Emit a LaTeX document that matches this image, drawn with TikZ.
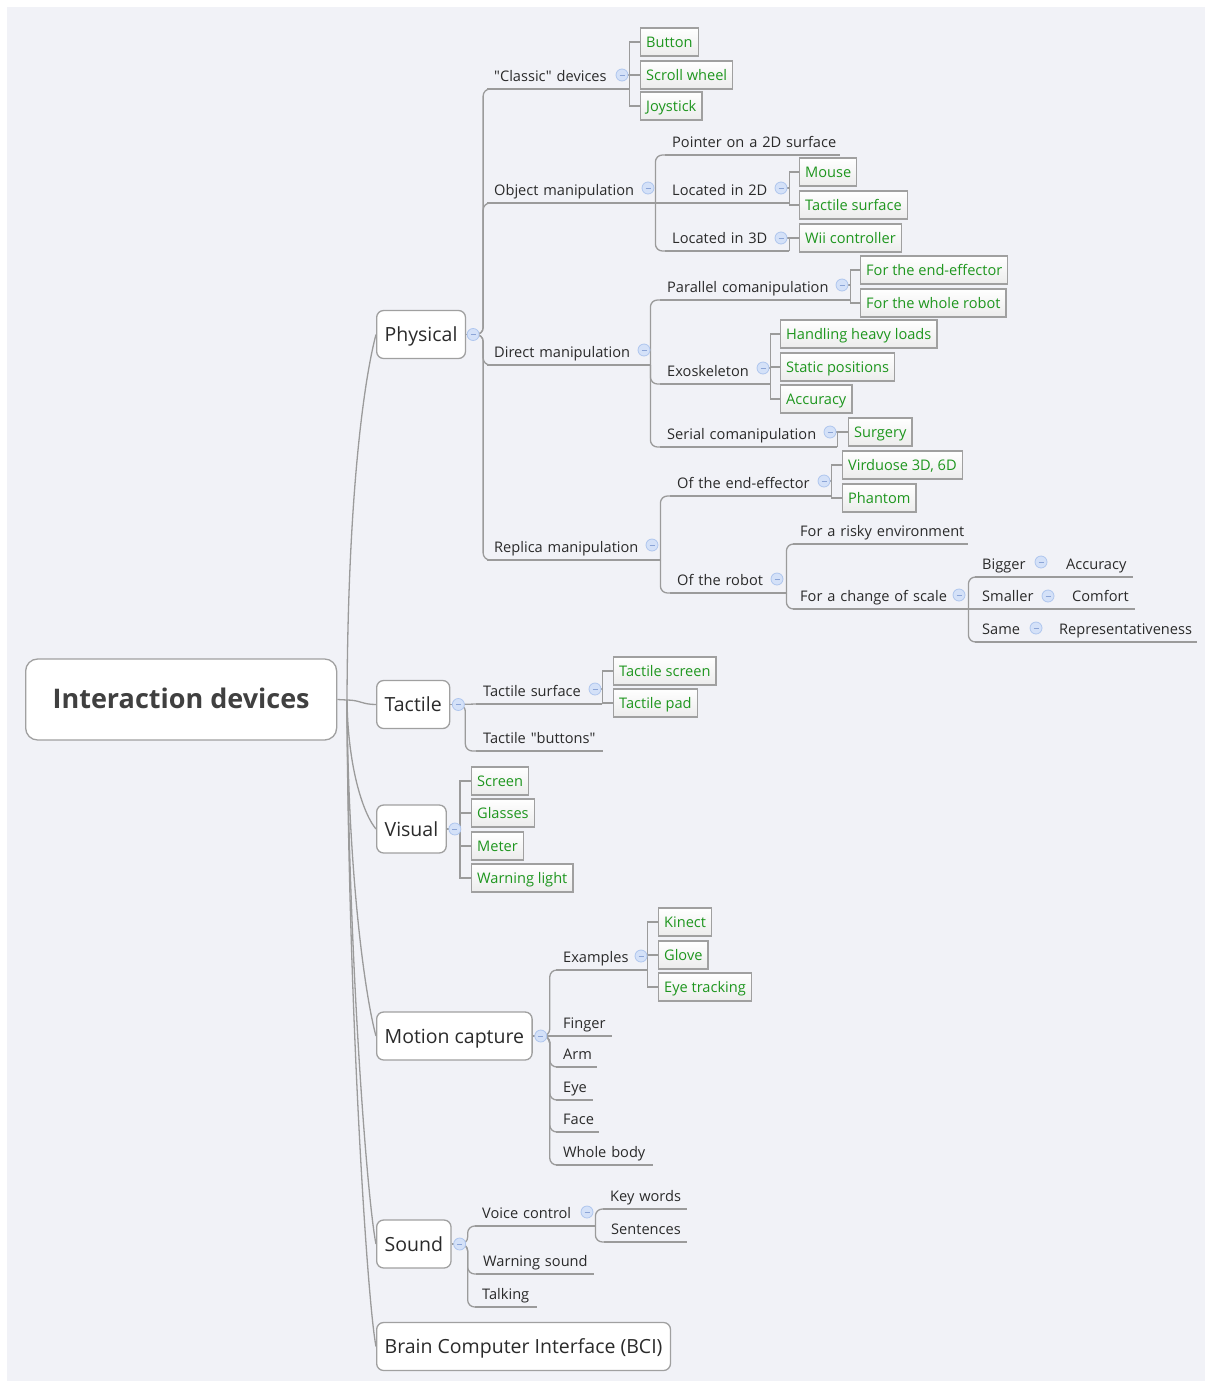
\documentclass[tikz,border=0pt]{standalone}
\usepackage{fontspec}
\setmainfont{Open Sans}[Ligatures=TeXOff]
\usetikzlibrary{calc}
\pgfdeclarelayer{back}
\pgfdeclarelayer{lines}
\pgfsetlayers{back,lines,main}
\definecolor{bgc}{RGB}{241,242,247}
\definecolor{lncol}{RGB}{155,155,155}
\definecolor{boxcol}{RGB}{160,160,160}
\definecolor{txt}{RGB}{42,42,42}
\definecolor{rtxt}{RGB}{64,64,64}
\definecolor{grn}{RGB}{30,150,30}
\definecolor{icoF}{RGB}{212,225,248}
\definecolor{icoB}{RGB}{175,198,238}
\definecolor{icoM}{RGB}{140,165,215}
\definecolor{boxbot}{RGB}{236,236,236}
\newcommand\subfnt{\fontsize{14.6}{17}\selectfont}
\newcommand\mainfnt{\fontsize{19.5}{23}\selectfont}
\newcommand\rootfnt{\fontsize{27}{31}\selectfont\bfseries}
\begin{document}
\begin{tikzpicture}[x=1pt,y=-1pt,
  ln/.style={draw=lncol, line width=1.3pt},
  br/.style={ln, rounded corners=7pt},
  sub/.style={anchor=south west, inner xsep=7pt, inner ysep=3.5pt, text height=11pt, text depth=4pt, font=\subfnt, text=txt, align=left},
  gbox/.style={anchor=west, draw=boxcol, line width=1.3pt, top color=white, bottom color=boxbot, text=grn, font=\subfnt, inner xsep=5.5pt, inner ysep=0pt, minimum height=28pt, text height=13pt, text depth=1.5pt},
  mbox/.style={anchor=west, draw=boxcol, line width=1.3pt, fill=white, rounded corners=7pt, font=\mainfnt, text=txt, inner xsep=8pt, minimum height=48pt, text height=17pt, text depth=3pt},
  ico/.style={circle, draw=icoB, fill=icoF, line width=0.8pt, minimum size=12pt, inner sep=0pt,
    path picture={\draw[icoM, line width=1pt] ([xshift=-2.5pt]path picture bounding box.center) -- ([xshift=2.5pt]path picture bounding box.center);}}
]
\begin{pgfonlayer}{back}
\fill[white] (0,0) rectangle (1211,1387);
\fill[bgc] (7,7) rectangle (1205,1381);
\end{pgfonlayer}
\path[use as bounding box] (0,0) rectangle (1211,1387);

% root and main topics
\node[draw=boxcol, line width=1.3pt, fill=white, rounded corners=12pt, minimum width=311pt, minimum height=81pt, anchor=west, font=\rootfnt, text=rtxt, text height=22pt, text depth=4pt] (root) at (25,699.5) {Interaction devices};
\coordinate (hub) at (347,700);
\node[mbox] (phys) at (376,334.5) {Physical};
\node[mbox] (tact) at (376,704.5) {Tactile};
\node[mbox] (vis) at (376,829) {Visual};
\node[mbox] (mc) at (376,1036) {Motion capture};
\node[mbox] (snd) at (376,1244) {Sound};
\node[mbox] (bci) at (376,1346.5) {Brain Computer Interface (BCI)};

% Physical
\node[sub, text width=128pt] (cd) at (487,89) {\mbox{"Classic" devices}};
\node[gbox] (btn) at (640,42) {Button};
\node[gbox] (scw) at (640,75) {Scroll wheel};
\node[gbox] (joy) at (640,106) {Joystick};
\node[sub, text width=154pt] (om) at (487,203) {\mbox{Object manipulation}};
\node[sub, text width=161pt] (ptr) at (665,155) {\mbox{Pointer on a 2D surface}};
\node[sub, text width=110pt] (l2d) at (665,203) {\mbox{Located in 2D}};
\node[gbox] (mouse) at (799,172) {Mouse};
\node[gbox] (tsf) at (799,205) {Tactile surface};
\node[sub, text width=110pt] (l3d) at (665,251) {\mbox{Located in 3D}};
\node[gbox] (wii) at (799,238) {Wii controller};
\node[sub, text width=149pt] (dm) at (487,365) {\mbox{Direct manipulation}};
\node[sub, text width=176pt] (par) at (660,300) {\mbox{Parallel comanipulation}};
\node[gbox] (fee) at (860,270) {For the end-effector};
\node[gbox] (fwr) at (860,303) {For the whole robot};
\node[sub, text width=96pt] (exo) at (660,384) {\mbox{Exoskeleton}};
\node[gbox] (hhl) at (780,334) {Handling heavy loads};
\node[gbox] (stp) at (780,367) {Static positions};
\node[gbox] (acca) at (780,399) {Accuracy};
\node[sub, text width=163pt] (ser) at (660,447) {\mbox{Serial comanipulation}};
\node[gbox] (surg) at (848,432) {Surgery};
\node[sub, text width=159pt] (rep) at (487,560) {\mbox{Replica manipulation}};
\node[sub, text width=147pt] (eff) at (670,496) {\mbox{Of the end-effector}};
\node[gbox] (virt) at (842,465) {Virduose 3D, 6D};
\node[gbox] (phan) at (842,498) {Phantom};
\node[sub, text width=102pt] (rob) at (670,593) {\mbox{Of the robot}};
\node[sub, text width=161pt] (risk) at (793,544) {\mbox{For a risky environment}};
\node[sub, text width=161pt] (scl) at (793,609) {\mbox{For a change of scale}};
\node[sub, text width=70pt] (big) at (975,577) {\mbox{Bigger}};
\node[sub, text width=60pt] (accb) at (1059,577) {\mbox{Accuracy}};
\node[sub, text width=76pt] (sml) at (975,609) {\mbox{Smaller}};
\node[sub, text width=56pt] (comf) at (1065,609) {\mbox{Comfort}};
\node[sub, text width=63pt] (same) at (975,642) {\mbox{Same}};
\node[sub, text width=131pt] (repr) at (1052,642) {\mbox{Representativeness}};

% Tactile
\node[sub, text width=112pt] (tsurf) at (476,704) {\mbox{Tactile surface}};
\node[gbox] (tscr) at (613,671) {Tactile screen};
\node[gbox] (tpad) at (613,703) {Tactile pad};
\node[sub, text width=113pt] (tbut) at (476,751) {\mbox{Tactile "buttons"}};

% Visual
\node[gbox] (scr) at (471,781) {Screen};
\node[gbox] (gla) at (471,813) {Glasses};
\node[gbox] (met) at (471,846) {Meter};
\node[gbox] (wl) at (471,878) {Warning light};

% Motion capture
\node[sub, text width=77pt] (ex) at (556,970) {\mbox{Examples}};
\node[gbox] (kin) at (658,922) {Kinect};
\node[gbox] (glo) at (658,955) {Glove};
\node[gbox] (eyt) at (658,987) {Eye tracking};
\node[sub, text width=42pt] (fin) at (556,1036) {\mbox{Finger}};
\node[sub, text width=27pt] (arm) at (556,1067) {\mbox{Arm}};
\node[sub, text width=23pt] (eye) at (556,1100) {\mbox{Eye}};
\node[sub, text width=29pt] (face) at (556,1132) {\mbox{Face}};
\node[sub, text width=83pt] (wb) at (556,1165) {\mbox{Whole body}};

% Sound
\node[sub, text width=106pt] (vc) at (475,1226) {\mbox{Voice control}};
\node[sub, text width=70pt] (kw) at (603,1209) {\mbox{Key words}};
\node[sub, text width=69pt] (sen) at (604,1242) {\mbox{Sentences}};
\node[sub, text width=104pt] (ws) at (476,1274) {\mbox{Warning sound}};
\node[sub, text width=48pt] (talk) at (475,1307) {\mbox{Talking}};

% collapse icons
\node[ico] (phI) at ([xshift=7pt]phys.east) {};
\node[ico] (tactI) at ([xshift=8pt]tact.east) {};
\node[ico] (visI) at ([xshift=8pt]vis.east) {};
\node[ico] (mcI) at ([xshift=8pt]mc.east) {};
\node[ico] (sndI) at ([xshift=8pt]snd.east) {};
\node[ico] (cdI) at (622,75) {};
\node[ico] (omI) at (648,188) {};
\node[ico] (l2dI) at (781,188) {};
\node[ico] (l3dI) at (781,238) {};
\node[ico] (dmI) at (644,350) {};
\node[ico] (parI) at (842,285) {};
\node[ico] (exoI) at (763,368) {};
\node[ico] (serI) at (830,432) {};
\node[ico] (repI) at (652,545) {};
\node[ico] (effI) at (824,481) {};
\node[ico] (robI) at (777,579) {};
\node[ico] (sclI) at (959,595) {};
\node[ico] (bigI) at (1041,562) {};
\node[ico] (smlI) at (1048,596) {};
\node[ico] (sameI) at (1036,628) {};
\node[ico] (tsI) at (595,689) {};
\node[ico] (exI) at (641,956) {};
\node[ico] (vcI) at (587,1212) {};

\begin{pgfonlayer}{lines}
% root to main topics
\draw[ln] (root.east) -- (hub);
\draw[ln] (hub) .. controls (348,480) and (366,372) .. (phys.west);
\draw[ln] (hub) .. controls (360,700) and (362,704.5) .. (tact.west);
\draw[ln] (hub) .. controls (348,770) and (364,815) .. (vis.west);
\draw[ln] (hub) .. controls (348,880) and (366,1000) .. (mc.west);
\draw[ln] (hub) .. controls (348,950) and (367,1200) .. (snd.west);
\draw[ln] (hub) .. controls (348,1000) and (367,1300) .. (bci.west);
% box to icon stubs
\foreach \b/\i in {phys/phI,tact/tactI,vis/visI,mc/mcI,snd/sndI} \draw[ln] (\b.east) -- (\i.center);
% underlines
\foreach \n in {cd,om,ptr,l2d,l3d,dm,par,exo,ser,rep,eff,rob,risk,scl,big,accb,sml,comf,same,repr,tsurf,tbut,ex,fin,arm,eye,face,wb,vc,kw,sen,ws,talk}
  \draw[ln] (\n.south west) -- (\n.south east);
% curved branches
\foreach \c in {cd,om,dm,rep} \draw[br] (phI.center) -- ++(10,0) |- (\c.south west);
\draw[ln] (om.south east) -- (l2d.south west);
\foreach \c in {ptr,l3d} \draw[br] (om.south east) |- (\c.south west);
\foreach \c in {par,exo,ser} \draw[br] (dm.south east) |- (\c.south west);
\foreach \c in {eff,rob} \draw[br] (rep.south east) |- (\c.south west);
\foreach \c in {risk,scl} \draw[br] (rob.south east) |- (\c.south west);
\draw[ln] (scl.south east) -- (sml.south west);
\foreach \c in {big,same} \draw[br] (scl.south east) |- (\c.south west);
\draw[ln] (tactI.center) -- (tsurf.south west);
\draw[br] (tactI.center) -- ++(7,0) |- (tbut.south west);
\draw[ln] (mcI.center) -- (fin.south west);
\foreach \c in {ex,arm,eye,face,wb} \draw[br] (mcI.center) -- ++(9,0) |- (\c.south west);
\foreach \c in {vc,ws,talk} \draw[br] (sndI.center) -- ++(8,0) |- (\c.south west);
\foreach \c in {kw,sen} \draw[br] (vc.south east) |- (\c.south west);
% brackets to boxes
\foreach \p/\i/\bs in {cd/cdI/{btn,scw,joy}, l2d/l2dI/{mouse,tsf}, l3d/l3dI/{wii}, par/parI/{fee,fwr}, exo/exoI/{hhl,stp,acca}, ser/serI/{surg}, eff/effI/{virt,phan}, tsurf/tsI/{tscr,tpad}, ex/exI/{kin,glo,eyt}} {
  \draw[ln] (\i.center) -- (\i.center -| \p.south east);
  \foreach \b in \bs \draw[ln] (\p.south east) |- (\b.west);
}
\foreach \b in {scr,gla,met,wl} \draw[ln] (visI.center) -| ([xshift=-11pt]\b.west) -- (\b.west);
\end{pgfonlayer}
\end{tikzpicture}
\end{document}
